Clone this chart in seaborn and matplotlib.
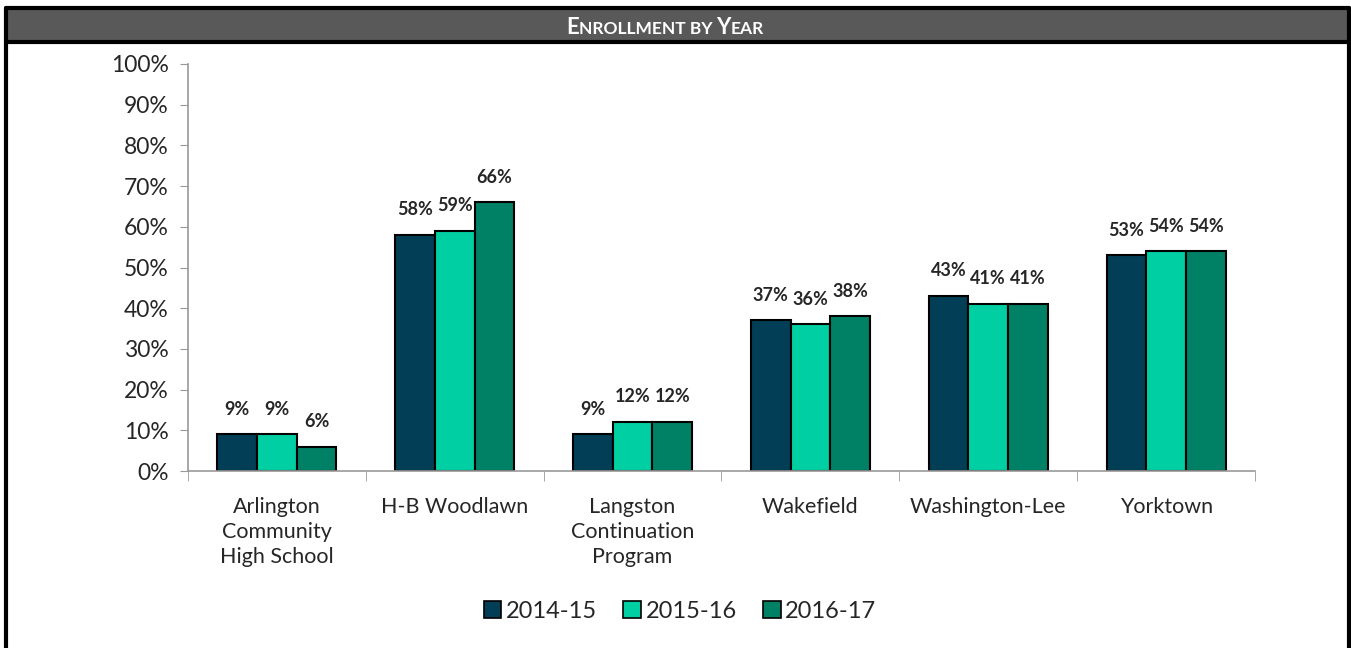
import pandas as pd
import matplotlib
matplotlib.use("Agg")
import matplotlib.pyplot as plt
import matplotlib.patches as mpatches
from matplotlib.lines import Line2D
import seaborn as sns

# chart data
schools = ["Arlington\nCommunity\nHigh School", "H-B Woodlawn", "Langston\nContinuation\nProgram",
           "Wakefield", "Washington-Lee", "Yorktown"]
years = ["2014-15", "2015-16", "2016-17"]
pct_2014 = [9, 58, 9, 37, 43, 53]
pct_2015 = [9, 59, 12, 36, 41, 54]
pct_2016 = [6, 66, 12, 38, 41, 54]
colors = ["#023f57", "#00cfa3", "#008166"]

df = pd.DataFrame({
    "School": schools * 3,
    "Year": [y for y in years for _ in schools],
    "Pct": pct_2014 + pct_2015 + pct_2016,
})

sns.set_style("white")
plt.rcParams["font.family"] = ["Lato", "DejaVu Sans"]

W, H = 1351, 648
fig = plt.figure(figsize=(W / 100, H / 100), dpi=100)
ax = fig.add_axes([188 / W, 1 - 471 / H, (1255 - 188) / W, (471 - 64) / H])

sns.barplot(data=df, x="School", y="Pct", hue="Year", palette=colors, width=0.67,
            edgecolor="black", linewidth=1.5, saturation=1, legend=False, ax=ax)

for cont in ax.containers:
    ax.bar_label(cont, labels=[f"{int(v)}%" for v in cont.datavalues], padding=12,
                 fontsize=13, fontweight="bold")

ax.set_ylim(0, 100)
ax.set_xlim(-0.5, 5.5)
ax.set_yticks(range(0, 101, 10))
ax.set_yticklabels([f"{v}%" for v in range(0, 101, 10)], fontsize=16.5)
ax.set_xlabel("")
ax.set_ylabel("")
ax.tick_params(axis="x", length=0, pad=19, labelsize=15.5)
ax.tick_params(axis="y", length=6, color="#999999", direction="out", pad=8, left=True)
for lab in ax.get_xticklabels():
    lab.set_linespacing(1.3)
    lab.set_verticalalignment("top")
ax.set_xticks([i - 0.5 for i in range(7)], minor=True)
ax.tick_params(axis="x", which="minor", length=7, color="#999999", bottom=True)
for s in ["top", "right"]:
    ax.spines[s].set_visible(False)
for s in ["left", "bottom"]:
    ax.spines[s].set_color("#999999")
    ax.spines[s].set_linewidth(1.2)

handles = [mpatches.Patch(facecolor=c, edgecolor="black", linewidth=1.2, label=y)
           for c, y in zip(colors, years)]
fig.legend(handles=handles, loc="center", bbox_to_anchor=(680 / W, 1 - 611 / H), ncol=3,
           frameon=False, fontsize=17, handlelength=0.75, handleheight=0.75,
           handletextpad=0.2, columnspacing=1.1)

# frame and title bar
fig.patches.append(mpatches.Rectangle((6 / W, 1 - 42 / H), (1349 - 6) / W, 34 / H,
                                      transform=fig.transFigure, facecolor="#595959",
                                      edgecolor="none", zorder=0))
for y in [8, 42]:
    fig.add_artist(Line2D([6 / W, 1349 / W], [1 - y / H] * 2, color="black", lw=3))
for x in [6, 1349]:
    fig.add_artist(Line2D([x / W] * 2, [0, 1 - 8 / H], color="black", lw=3))

# small-caps title
pieces = [("E", 16), ("NROLLMENT BY ", 12.5), ("Y", 16), ("EAR", 12.5)]
renderer = fig.canvas.get_renderer()
texts = []
for s, fs in pieces:
    t = fig.text(0, 1 - 34 / H, s, fontsize=fs, fontweight="bold", color="white",
                 ha="left", va="baseline")
    texts.append(t)
widths = [t.get_window_extent(renderer).width for t in texts]
x = 665 - sum(widths) / 2
for t, w in zip(texts, widths):
    t.set_x(x / W)
    x += w

fig.savefig("out.png", dpi=100)
